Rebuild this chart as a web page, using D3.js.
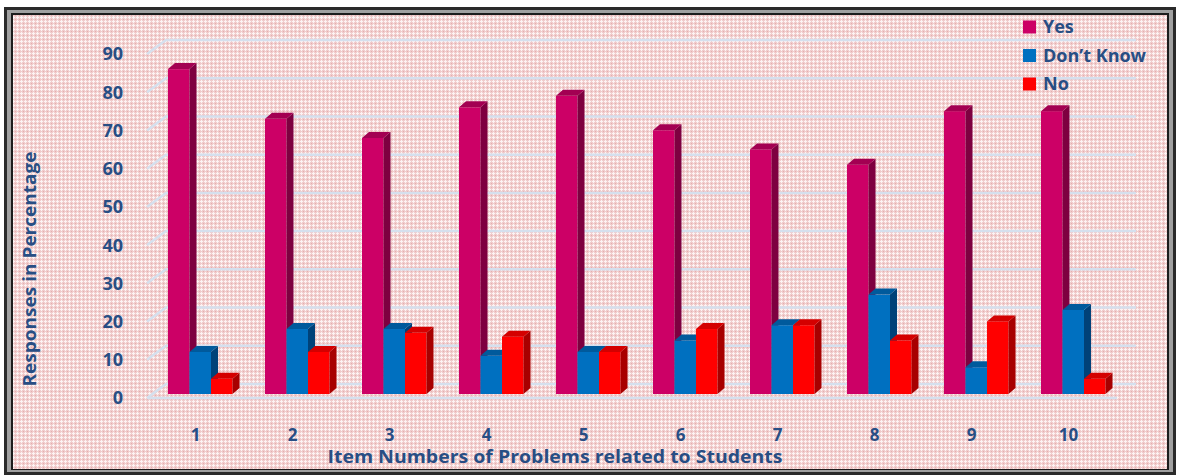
<!DOCTYPE html>
<html>
<head>
<meta charset="utf-8">
<script src="https://cdn.jsdelivr.net/npm/d3@7/dist/d3.min.js"></script>
<style>
  body { margin: 0; background: #fff; }
  text { font-family: "Open Sans", "Noto Sans", sans-serif; font-weight: 700; fill: #284e84; }
</style>
</head>
<body>
<div class="svgBox"></div>
<script>
// data
var items = ["1", "2", "3", "4", "5", "6", "7", "8", "9", "10"];
var seriesNames = ["Yes", "Don\u2019t Know", "No"];
var yes     = [85, 72, 67, 75, 78, 69, 64, 60, 74, 74];
var dontKnow = [11, 17, 17, 10, 11, 14, 18, 26, 7, 22];
var no      = [4, 11, 16, 15, 11, 17, 18, 14, 19, 4];
var yTicks  = [0, 10, 20, 30, 40, 50, 60, 70, 80, 90];

var W = 1178, H = 475;
// front / side / top colours per series
var colors = [
    { front: "#cc0066", side: "#7e0040", top: "#a30052" },
    { front: "#0070c0", side: "#004279", top: "#005a9c" },
    { front: "#ff0000", side: "#a80000", top: "#d40000" }
];
var depthX = 7, depthY = -6;       // bar depth
var floorX = 19, floorY = -14;     // wall depth

var svg = d3.select(".svgBox").append("svg")
    .attr("width", W)
    .attr("height", H);

// 背景纹理
var defs = svg.append("defs");
var pat = defs.append("pattern")
    .attr("id", "dots")
    .attr("width", 4).attr("height", 4)
    .attr("patternUnits", "userSpaceOnUse");
pat.append("rect").attr("width", 4).attr("height", 4).attr("fill", "#f0cccc");
pat.append("rect").attr("x", 1).attr("y", 0).attr("width", 1).attr("height", 3).attr("fill", "#fdf3f3");
pat.append("rect").attr("x", 0).attr("y", 1).attr("width", 3).attr("height", 1).attr("fill", "#fdf3f3");
pat.append("rect").attr("x", 3).attr("y", 3).attr("width", 1).attr("height", 1).attr("fill", "#e6aeae");

// frame
svg.append("rect").attr("x", 4).attr("y", 7).attr("width", 1172).attr("height", 468).attr("fill", "#2a2a2a");
svg.append("rect").attr("x", 7).attr("y", 10).attr("width", 1166).attr("height", 462).attr("fill", "#a0a0a0");
svg.append("rect").attr("x", 11).attr("y", 13).attr("width", 1158).attr("height", 457).attr("fill", "#1c1c1c");
svg.append("rect").attr("x", 13).attr("y", 15).attr("width", 1154).attr("height", 454).attr("fill", "url(#dots)");

var x = d3.scaleBand()
    .domain(items)
    .range([147, 1117]);

var xs = d3.scaleBand()
    .domain(seriesNames)
    .range([21, 85.5]);

var y = d3.scaleLinear()
    .domain([0, 90])
    .range([394, 50]);

// gridlines on the back wall
var grid = svg.append("g").attr("stroke", "#d5e0ee").attr("stroke-width", 2.5).attr("fill", "none");
grid.selectAll("path.grid")
    .data(yTicks)
    .enter().append("path")
    .attr("class", "grid")
    .attr("d", function(d) {
        var yf = y(d) + 4;
        return "M" + x.range()[0] + "," + yf +
            "L" + (x.range()[0] + floorX) + "," + (yf + floorY) +
            "L" + (x.range()[1] + floorX) + "," + (yf + floorY);
    });
// front edge of the floor
grid.append("line")
    .attr("x1", x.range()[0]).attr("x2", x.range()[1])
    .attr("y1", y(0) + 4).attr("y2", y(0) + 4);

// y tick labels
svg.append("g").selectAll("text")
    .data(yTicks)
    .enter().append("text")
    .attr("x", 123)
    .attr("y", function(d) { return y(d) + 4; })
    .attr("dy", "0.36em")
    .attr("text-anchor", "end")
    .attr("font-size", 18)
    .text(function(d) { return d; });

// x tick labels
svg.append("g").selectAll("text")
    .data(items)
    .enter().append("text")
    .attr("x", function(d) { return x(d) + x.bandwidth() / 2; })
    .attr("y", 435)
    .attr("dy", "0.36em")
    .attr("text-anchor", "middle")
    .attr("font-size", 17)
    .text(function(d) { return d; });

// 3D bars
var rows = [];
items.forEach(function(it, i) {
    [yes[i], dontKnow[i], no[i]].forEach(function(v, s) {
        rows.push({ item: it, series: s, value: v });
    });
});

var bar = svg.append("g").selectAll("g.bar")
    .data(rows)
    .enter().append("g")
    .attr("class", "bar");

function bx(d) { return x(d.item) + xs(seriesNames[d.series]); }

bar.append("rect")
    .attr("x", bx)
    .attr("y", function(d) { return y(d.value); })
    .attr("width", xs.bandwidth())
    .attr("height", function(d) { return y(0) - y(d.value); })
    .attr("fill", function(d) { return colors[d.series].front; });

bar.append("path")
    .attr("d", function(d) {
        var x1 = bx(d) + xs.bandwidth(), yt = y(d.value), yb = y(0);
        return "M" + x1 + "," + yt + "L" + (x1 + depthX) + "," + (yt + depthY) +
            "L" + (x1 + depthX) + "," + (yb + depthY) + "L" + x1 + "," + yb + "Z";
    })
    .attr("fill", function(d) { return colors[d.series].side; });

bar.append("path")
    .attr("d", function(d) {
        var x0 = bx(d), x1 = x0 + xs.bandwidth(), yt = y(d.value);
        return "M" + x0 + "," + yt + "L" + (x0 + depthX) + "," + (yt + depthY) +
            "L" + (x1 + depthX) + "," + (yt + depthY) + "L" + x1 + "," + yt + "Z";
    })
    .attr("fill", function(d) { return colors[d.series].top; });

// axis titles
svg.append("text")
    .attr("x", 555)
    .attr("y", 457)
    .attr("dy", "0.36em")
    .attr("text-anchor", "middle")
    .attr("font-size", 17)
    .attr("textLength", 455)
    .attr("lengthAdjust", "spacingAndGlyphs")
    .text("Item Numbers of Problems related to Students");

svg.append("text")
    .attr("transform", "translate(30,269) rotate(-90)")
    .attr("dy", "0.36em")
    .attr("text-anchor", "middle")
    .attr("font-size", 18)
    .attr("textLength", 235)
    .attr("lengthAdjust", "spacingAndGlyphs")
    .text("Responses in Percentage");

// legend
var legend = svg.append("g").selectAll("g.legend")
    .data(seriesNames)
    .enter().append("g")
    .attr("class", "legend")
    .attr("transform", function(d, i) { return "translate(1023," + (27 + i * 28.5) + ")"; });
legend.append("rect")
    .attr("x", 0).attr("y", -6.5)
    .attr("width", 13).attr("height", 13)
    .attr("fill", function(d, i) { return colors[i].front; });
legend.append("text")
    .attr("x", 20)
    .attr("dy", "0.36em")
    .attr("font-size", 18)
    .text(function(d) { return d; });
</script>
</body>
</html>
